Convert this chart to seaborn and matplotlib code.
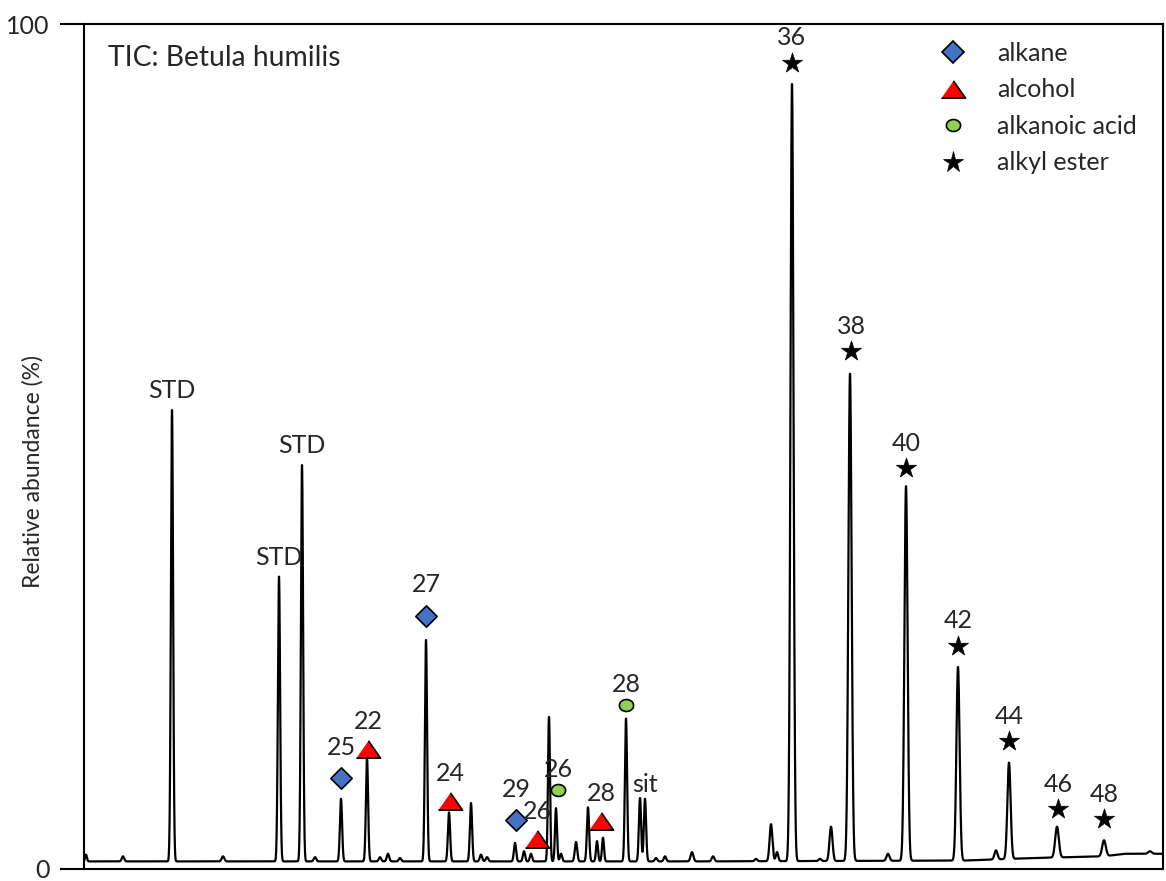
import numpy as np
import pandas as pd
import matplotlib
matplotlib.use("Agg")
import matplotlib.pyplot as plt
from matplotlib.lines import Line2D
import seaborn as sns

# ---------------- data ----------------
# retention position (arbitrary units, axis unlabelled) and relative abundance (%)
peak_rt = [2, 39, 88, 139, 195, 218, 231, 257, 283, 296, 304, 316, 342, 365,
           387, 397, 403, 431, 440, 447, 465, 472, 477, 492, 504, 513, 519,
           542, 556, 561, 572, 581, 608, 629, 672, 687, 693, 708, 736, 747,
           766, 804, 822, 874, 912, 925, 973, 1020, 1066]
peak_height = [1.7, 1.5, 54.3, 1.5, 34.6, 47.8, 1.4, 8.3, 13.1, 1.4, 1.8, 1.3,
               27.1, 6.7, 7.8, 1.7, 1.4, 3.1, 2.1, 1.8, 18.0, 7.2, 1.8, 3.2,
               7.3, 3.3, 3.7, 17.8, 8.4, 8.3, 1.3, 1.5, 2.0, 1.5, 1.2, 5.3,
               2.0, 92.9, 1.2, 5.0, 58.6, 1.8, 45.3, 23.9, 2.2, 12.6, 5.0,
               3.4, 2.1]
peak_sigma = [0.9, 1.2, 1.1, 1.3, 1.1, 1.1, 1.2, 1.1, 1.1, 1.2, 1.2, 1.2,
              1.1, 1.1, 1.1, 1.2, 1.2, 1.1, 1.1, 1.1, 1.0, 1.0, 1.1, 1.2,
              1.1, 1.0, 1.0, 1.1, 1.1, 1.1, 1.2, 1.2, 1.4, 1.3, 1.3, 1.4,
              1.2, 1.5, 1.3, 1.5, 1.6, 1.5, 1.6, 1.6, 1.5, 1.6, 1.8,
              1.8, 1.8]
baseline_rt = [0, 620, 880, 950, 1020, 1040, 1079]
baseline_h = [0.9, 0.9, 1.0, 1.3, 1.5, 1.8, 1.8]

# compound-class markers
ann_class = ["alkane", "alkane", "alkane",
             "alcohol", "alcohol", "alcohol", "alcohol",
             "alkanoic acid", "alkanoic acid",
             "alkyl ester", "alkyl ester", "alkyl ester", "alkyl ester",
             "alkyl ester", "alkyl ester", "alkyl ester"]
ann_label = ["25", "27", "29",
             "22", "24", "26", "28",
             "26", "28",
             "36", "38", "40", "42", "44", "46", "48"]
ann_rt = [257, 342, 432,
          284, 366, 453, 517,
          474, 542,
          708, 767, 822, 874, 925, 974, 1020]
ann_y = [10.8, 30.0, 5.8,
         14.2, 8.0, 3.5, 5.7,
         9.3, 19.4,
         95.4, 61.3, 47.4, 26.4, 15.1, 7.1, 5.9]

other_label = ["STD", "STD", "STD", "sit"]
other_rt = [88, 195, 218, 561]

class_order = ["alkane", "alcohol", "alkanoic acid", "alkyl ester"]
y_ticks = [0, 100]
title_text = "TIC: Betula humilis"
y_label = "Relative abundance (%)"

# ---------------- build trace from the peak table ----------------
rt_grid = np.arange(0, 1079.01, 0.2)
base = np.interp(rt_grid, baseline_rt, baseline_h)
signal = base.copy()
for rt, h, s in zip(peak_rt, peak_height, peak_sigma):
    amp = h - np.interp(rt, baseline_rt, baseline_h)
    signal += amp * np.exp(-0.5 * ((rt_grid - rt) / s) ** 2)
trace = pd.DataFrame({"rt": rt_grid, "abundance": signal})
ann = pd.DataFrame({"cls": ann_class, "label": ann_label, "rt": ann_rt, "y": ann_y})

# ---------------- style ----------------
sns.set_theme(style="white")
plt.rcParams["font.family"] = ["Lato", "DejaVu Sans"]
FS = 18

fig = plt.figure(figsize=(11.66, 8.81), dpi=100)
ax = fig.add_axes([84 / 1166, 1 - 869 / 881, 1079 / 1166, 845 / 881])

sns.lineplot(data=trace, x="rt", y="abundance", color="black", linewidth=1.6,
             estimator=None, sort=False, ax=ax)

tri = [(-1, -0.72), (1, -0.72), (0, 0.72)]
theta = np.linspace(0, 2 * np.pi, 40)
ell = list(zip(np.cos(theta), 0.84 * np.sin(theta)))
cls_style = {
    "alkane": dict(marker="D", s=118, color="#4472C4", lw=1.2),
    "alcohol": dict(marker=tri, s=300, color="#FF0000", lw=1.2),
    "alkanoic acid": dict(marker=ell, s=105, color="#92D050", lw=1.2),
    "alkyl ester": dict(marker="*", s=230, color="black", lw=0.5),
}
label_off = {"alkane": 22, "alcohol": 20, "alkanoic acid": 15, "alkyl ester": 18}

handles = []
for cls in class_order:
    sub = ann[ann["cls"] == cls]
    st = cls_style[cls]
    sns.scatterplot(data=sub, x="rt", y="y", marker=st["marker"], s=st["s"],
                    color=st["color"], edgecolor="black", linewidth=st["lw"],
                    ax=ax, zorder=5, legend=False)
    for _, r in sub.iterrows():
        ax.annotate(r["label"], (r["rt"], r["y"]), xytext=(0, label_off[cls]),
                    textcoords="offset points", ha="center", va="center",
                    fontsize=FS, zorder=6)
    handles.append(Line2D([], [], linestyle="none", marker=st["marker"],
                          markersize=np.sqrt(st["s"]), markerfacecolor=st["color"],
                          markeredgecolor="black", markeredgewidth=st["lw"],
                          label=cls))

for lab, rt in zip(other_label, other_rt):
    h = peak_height[peak_rt.index(rt)]
    off = 10 if lab == "sit" else 14
    ax.annotate(lab, (rt, h), xytext=(0, off), textcoords="offset points",
                ha="center", va="center", fontsize=FS)

ax.text(0.0222, 0.9598, title_text, transform=ax.transAxes, ha="left",
        va="center", fontsize=20.3)

ax.set_xlim(0, 1079)
ax.set_ylim(0, 100)
ax.set_xticks([])
ax.set_yticks(y_ticks)
ax.set_yticklabels([str(t) for t in y_ticks], fontsize=FS)
ax.tick_params(axis="y", direction="out", length=17, width=1.5, pad=8,
               color="black", left=True)
ax.set_xlabel("")
ax.set_ylabel(y_label, fontsize=16.5)
ax.yaxis.label.set_va("center")
ax.yaxis.set_label_coords(-0.0473, 0.471)
for sp in ax.spines.values():
    sp.set_visible(True)
    sp.set_color("black")
    sp.set_linewidth(1.5)

ax.legend(handles=handles, loc="upper left", bbox_to_anchor=(0.7938, 0.9787),
          frameon=False, fontsize=FS, handlelength=1.0,
          handletextpad=1.26, labelspacing=0.54, borderpad=0,
          borderaxespad=0)

fig.savefig("out.png", dpi=100)
